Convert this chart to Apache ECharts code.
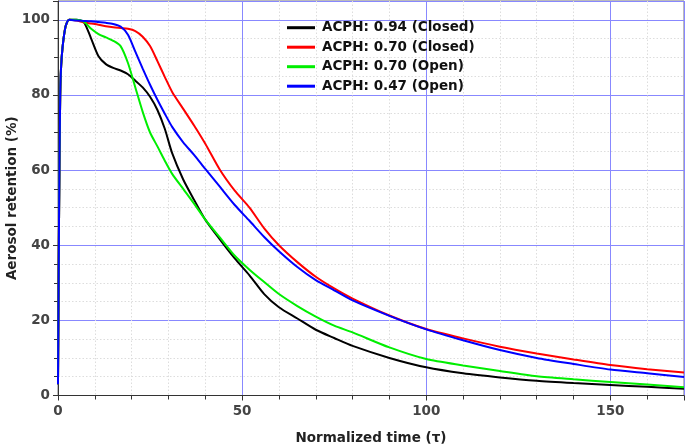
<!DOCTYPE html>
<html>
<head>
<meta charset="utf-8">
<script src="https://cdn.jsdelivr.net/npm/echarts@6/dist/echarts.min.js"></script>
<style>html,body{margin:0;padding:0;background:#fff}#c{width:685px;height:446px}</style>
</head>
<body>
<div id="c"></div>
<script>
const time = [0, 0.3, 0.6, 1, 2, 3, 5, 7, 9, 11, 13, 15, 17, 19, 21, 23, 25, 27, 29, 31, 34, 37, 40, 44, 48, 52, 56, 60, 65, 70, 75, 80, 90, 100, 110, 120, 130, 140, 150, 160, 170];
const black094 = [3, 50, 80, 90, 98, 100, 100, 99.4, 95, 90.3, 88.2, 87.2, 86.5, 85.5, 83.8, 82, 79.5, 76, 71, 64.5, 57.5, 52, 46.8, 41.5, 36.5, 32, 27, 23.5, 20.5, 17.5, 15.3, 13.2, 10, 7.5, 5.9, 4.8, 3.9, 3.3, 2.8, 2.3, 1.8];
const red070 = [3, 50, 80, 90, 98, 100, 99.8, 99.3, 99, 98.7, 98.3, 98, 97.8, 97.6, 97, 95.5, 93, 89, 84.8, 80.8, 76.3, 71.8, 67, 60, 54.5, 50, 44.5, 40, 35.5, 31.6, 28.5, 25.8, 21.3, 17.7, 15.2, 13, 11.2, 9.6, 8.1, 7, 6.1];
const green070 = [3, 50, 80, 90, 98, 100, 100, 99.5, 97.6, 96.2, 95.3, 94.4, 93, 88.5, 82, 75.5, 70, 66.3, 62.5, 59, 55, 51, 46.8, 42, 37.2, 33.5, 30.2, 27, 23.8, 21, 18.6, 16.8, 12.8, 9.7, 8, 6.5, 5.1, 4.3, 3.6, 2.9, 2.2];
const blue047 = [3, 50, 80, 90, 98, 100, 99.8, 99.7, 99.6, 99.4, 99.2, 98.9, 98.2, 96, 91.5, 87, 82.7, 78.7, 75, 71.5, 67.4, 64, 60.3, 55.5, 50.7, 46.5, 42.2, 38.4, 34.2, 30.7, 28, 25.3, 21.2, 17.6, 14.7, 12.1, 10, 8.4, 6.9, 5.9, 4.9];
const seriesNames = ['ACPH: 0.94 (Closed)', 'ACPH: 0.70 (Closed)', 'ACPH: 0.70 (Open)', 'ACPH: 0.47 (Open)'];
const seriesColors = ['#000000', '#ff0000', '#00ee00', '#0000ff'];
const seriesValues = [black094, red070, green070, blue047];

const font = 'DejaVu Sans';
const chart = echarts.init(document.getElementById('c'));
chart.setOption({
  animation: false,
  backgroundColor: '#fff',
  grid: {left: 58, right: 1, top: 1, bottom: 50.5, show: true, borderColor: '#777', borderWidth: 1, containLabel: false, outerBoundsMode: 'none'},
  legend: {
    orient: 'vertical', left: 287, top: 20.7, padding: 0, icon: 'rect', itemWidth: 28, itemHeight: 3, itemGap: 5.5,
    textStyle: {fontFamily: font, fontWeight: 'bold', fontSize: 13.5, color: '#111', padding: [0,0,0,2]},
    data: seriesNames
  },
  xAxis: {
    type: 'value', min: 0, max: 170, interval: 50,
    name: 'Normalized time (τ)', nameLocation: 'middle', nameGap: 36, nameMoveOverlap: false,
    nameTextStyle: {fontFamily: font, fontWeight: 'bold', fontSize: 13.5, color: '#222'},
    axisLine: {show: true, lineStyle: {color: '#333', width: 1}},
    axisTick: {show: true, length: 5, lineStyle: {color: '#333'}},
    minorTick: {show: true, splitNumber: 5, length: 4, lineStyle: {color: '#333'}},
    axisLabel: {fontFamily: font, fontWeight: 'bold', fontSize: 13.5, color: '#444', margin: 9, showMaxLabel: false},
    splitLine: {show: true, lineStyle: {color: '#8888ff', width: 1}},
    minorSplitLine: {show: true, lineStyle: {color: '#dddddd', type: [1.5, 2], width: 1}}
  },
  yAxis: {
    type: 'value', min: 0, max: 105, interval: 20,
    name: 'Aerosol retention (%)', nameLocation: 'middle', nameGap: 39, nameMoveOverlap: false,
    nameTextStyle: {fontFamily: font, fontWeight: 'bold', fontSize: 13.5, color: '#222'},
    axisLine: {show: true, lineStyle: {color: '#333', width: 1}},
    axisTick: {show: true, length: 5, lineStyle: {color: '#333'}},
    minorTick: {show: true, splitNumber: 4, length: 4, lineStyle: {color: '#333'}},
    axisLabel: {fontFamily: font, fontWeight: 'bold', fontSize: 13.5, color: '#444', margin: 8, showMaxLabel: false},
    splitLine: {show: true, lineStyle: {color: '#8888ff', width: 1}},
    minorSplitLine: {show: true, lineStyle: {color: '#dddddd', type: [1.5, 2], width: 1}}
  },
  series: seriesNames.map((n, i) => ({
    name: n, type: 'line', symbol: 'none', showSymbol: false, smooth: 0.25,
    color: seriesColors[i],
    lineStyle: {width: 2, color: seriesColors[i]},
    data: time.map((t, k) => [t, seriesValues[i][k]])
  }))
});
</script>
</body>
</html>
